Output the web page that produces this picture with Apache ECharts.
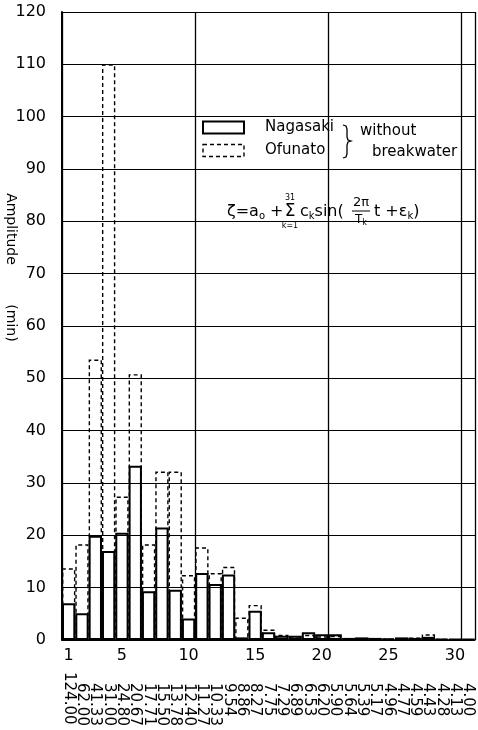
<!DOCTYPE html>
<html><head><meta charset="utf-8">
<script src="https://cdn.jsdelivr.net/npm/echarts@6/dist/echarts.min.js"></script>
<style>html,body{margin:0;padding:0;background:#fff}#c{width:478px;height:730px}</style>
</head><body><div id="c"></div>
<script>
const categories = [1,2,3,4,5,6,7,8,9,10,11,12,13,14,15,16,17,18,19,20,21,22,23,24,25,26,27,28,29,30,31];
const tickLabels = ['1','5','10','15','20','25','30'];
const periods = ['124.00','62.00','41.33','31.00','24.80','20.67','17.71','15.50','13.78','12.40','11.27','10.33','9.54','8.86','8.27','7.75','7.29','6.89','6.53','6.20','5.90','5.64','5.39','5.17','4.96','4.77','4.59','4.43','4.28','4.13','4.00'];
const nagasaki = [7.0,5.1,19.9,17.0,20.5,33.3,9.3,21.5,9.6,4.1,12.8,10.7,12.5,0.5,5.6,1.5,0.8,0.8,1.5,1.1,1.1,0.4,0.5,0.4,0.3,0.5,0.4,0.6,0.2,0.2,0.2];
const ofunato = [13.7,18.3,53.6,110.0,27.4,50.8,18.3,32.2,32.2,12.4,17.7,12.8,14.0,4.3,6.7,2.0,1.0,0.5,1.0,0.7,0.8,0.3,0.4,0.4,0.3,0.4,0.5,1.1,0.2,0.1,0.1];
const seriesNames = ['Nagasaki','Ofunato'];

const FONT = 'DejaVu Sans';
const chart = echarts.init(document.getElementById('c'), null, {renderer:'canvas'});
const rich = {m:{fontSize:16,fontFamily:FONT,color:'#000'}, s:{fontSize:10,fontFamily:FONT,color:'#000',padding:[8,0,0,0]}};
const solidStyle = {color:'rgba(0,0,0,0)', borderColor:'#000', borderWidth:2};
const dashStyle = {color:'rgba(0,0,0,0)', borderColor:'#000', borderWidth:1.4, borderType:[4,3]};

chart.setOption({
  animation:false,
  backgroundColor:'#fff',
  grid:{left:62,right:3,top:12,bottom:90},
  legend:{
    orient:'vertical', left:197, top:115, itemWidth:41, itemHeight:12, itemGap:8,
    icon:'rect', selectedMode:false,
    data:[{name:seriesNames[0], itemStyle:solidStyle}, {name:seriesNames[1], itemStyle:dashStyle}],
    textStyle:{fontSize:15,fontFamily:FONT,color:'#000',padding:[0,0,0,16],lineHeight:13}
  },
  xAxis:[
    {type:'category', data:categories, boundaryGap:true,
     axisLine:{show:true,lineStyle:{color:'#000',width:1.5}}, axisTick:{show:false},
     axisLabel:{fontSize:16,fontFamily:FONT,color:'#000',margin:8,
       interval:function(i,v){return tickLabels.indexOf(String(v))>=0;}},
     splitLine:{show:false}},
    {type:'category', data:categories, position:'bottom', boundaryGap:true,
     axisLine:{show:false}, axisTick:{show:false},
     axisLabel:{interval:0, rotate:-90, margin:32,
       formatter:function(v,i){return i===0?'{a|'+periods[i]+'}':'{b|'+periods[i]+'}';},
       rich:{a:{fontSize:15,fontFamily:FONT,color:'#000'},b:{fontSize:15,fontFamily:FONT,color:'#000',padding:[0,0,0,11]}}}},
    {type:'value', min:0.5, max:31.5, interval:10, position:'top',
     axisLine:{show:false}, axisTick:{show:false}, axisLabel:{show:false},
     splitLine:{show:true,lineStyle:{color:'#000',width:1.3}}}
  ],
  yAxis:{type:'value', min:0, max:120, interval:10,
    axisLine:{show:true,lineStyle:{color:'#000',width:2}}, axisTick:{show:false},
    axisLabel:{fontSize:16,fontFamily:FONT,color:'#000',margin:16},
    splitLine:{show:true,lineStyle:{color:'#000',width:1.1}}},
  series:[
    {name:seriesNames[1], type:'bar', xAxisIndex:0, data:ofunato, barGap:'-100%', barCategoryGap:'0%', itemStyle:dashStyle},
    {name:seriesNames[0], type:'bar', xAxisIndex:0, data:nagasaki, barGap:'-100%', barCategoryGap:'0%', itemStyle:solidStyle}
  ],
  graphic:[
    {type:'text', x:11, y:229, rotation:-Math.PI/2, style:{text:'Amplitude', fontSize:14, fontFamily:FONT, fill:'#000', align:'center', verticalAlign:'middle'}},
    {type:'text', x:11, y:323, rotation:-Math.PI/2, style:{text:'(min)', fontSize:14, fontFamily:FONT, fill:'#000', align:'center', verticalAlign:'middle'}},
    {type:'polyline', shape:{points:[[343,125],[346,126],[347,129],[347,137],[348,140],[351,141],[348,142],[347,145],[347,154],[346,157],[343,158]]}, style:{fill:'none', stroke:'#000', lineWidth:1.3}},
    {type:'text', x:360, y:131, style:{text:'without', fontSize:15, fontFamily:FONT, fill:'#000', verticalAlign:'middle'}},
    {type:'text', x:372, y:152, style:{text:'breakwater', fontSize:15, fontFamily:FONT, fill:'#000', verticalAlign:'middle'}},
    {type:'text', x:227, y:212, style:{text:'{m|ζ=a}{s|o}{m| +}', rich:rich, verticalAlign:'middle'}},
    {type:'text', x:290, y:212, style:{text:'Σ', fontSize:17, fontFamily:FONT, fill:'#000', align:'center', verticalAlign:'middle'}},
    {type:'text', x:290, y:198, style:{text:'31', fontSize:8, fontFamily:FONT, fill:'#000', align:'center', verticalAlign:'middle'}},
    {type:'text', x:290, y:226, style:{text:'k=1', fontSize:8, fontFamily:FONT, fill:'#000', align:'center', verticalAlign:'middle'}},
    {type:'text', x:300, y:212, style:{text:'{m|c}{s|k}{m|sin(}', rich:rich, verticalAlign:'middle'}},
    {type:'text', x:361, y:203, style:{text:'2π', fontSize:13, fontFamily:FONT, fill:'#000', align:'center', verticalAlign:'middle'}},
    {type:'line', shape:{x1:352,y1:211,x2:370,y2:211}, style:{stroke:'#000', lineWidth:1}},
    {type:'text', x:361, y:220, style:{text:'{t|T}{u|k}', rich:{t:{fontSize:12,fontFamily:FONT,color:'#000'},u:{fontSize:8,fontFamily:FONT,color:'#000',padding:[6,0,0,0]}}, align:'center', verticalAlign:'middle'}},
    {type:'text', x:374, y:212, style:{text:'{m|t +ε}{s|k}{m|)}', rich:rich, verticalAlign:'middle'}}
  ]
});
</script></body></html>
